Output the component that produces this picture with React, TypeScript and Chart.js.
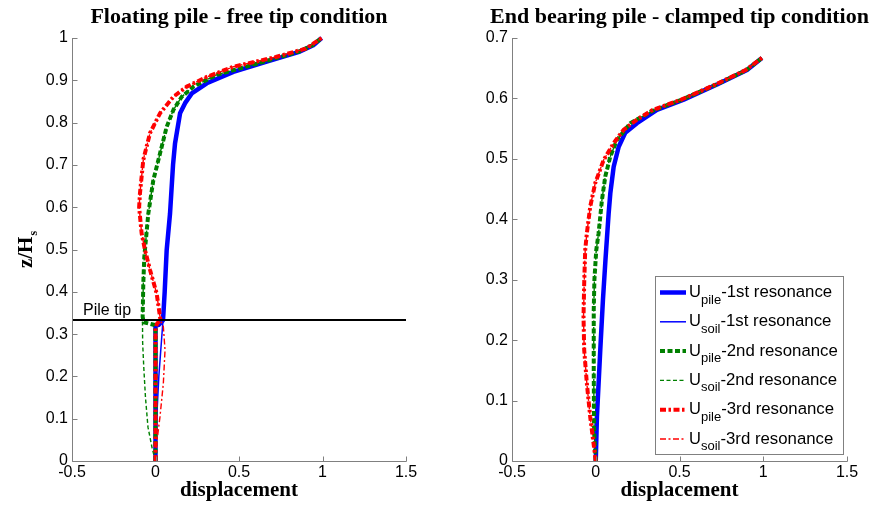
import React, { useEffect, useRef } from "react";
import { Chart, registerables } from "chart.js";

Chart.register(...registerables);

// ---------------- Data: Floating pile - free tip condition (left) ----------------
const PILE_TIP = 1 / 3;
const TIP_LINE_X = [-0.5, 1.5];
const TIP_LINE_Y = [PILE_TIP, PILE_TIP];

const L_PILE1_X = [0, 0, 0.02, 0.045, 0.055, 0.067, 0.087, 0.105, 0.117, 0.147, 0.177, 0.217, 0.307, 0.466, 0.666, 0.865, 0.945, 0.995];
const L_PILE1_Y = [0, 0.32, 0.322, 0.333, 0.4, 0.499, 0.585, 0.7, 0.751, 0.822, 0.846, 0.869, 0.893, 0.92, 0.944, 0.968, 0.983, 1.0];
const L_SOIL1_X = [0, 0.007, 0.02, 0.035, 0.045];
const L_SOIL1_Y = [0, 0.1, 0.2, 0.28, 0.333];

const L_PILE2_X = [0, 0, -0.01, -0.04, -0.07, -0.077, -0.073, -0.067, -0.043, -0.013, 0.027, 0.067, 0.107, 0.157, 0.227, 0.366, 0.65, 0.86, 0.94, 0.995];
const L_PILE2_Y = [0, 0.315, 0.322, 0.325, 0.328, 0.341, 0.42, 0.483, 0.585, 0.664, 0.727, 0.79, 0.83, 0.861, 0.885, 0.913, 0.944, 0.968, 0.983, 1.0];
const L_SOIL2_X = [0, -0.02, -0.045, -0.06, -0.07, -0.077, -0.078];
const L_SOIL2_Y = [0, 0.03, 0.08, 0.15, 0.22, 0.28, 0.333];

const L_PILE3_X = [0, 0, 0.01, 0.03, 0.027, 0.007, -0.033, -0.063, -0.083, -0.098, -0.093, -0.073, -0.033, 0.027, 0.107, 0.187, 0.307, 0.466, 0.72, 0.9, 0.995];
const L_PILE3_Y = [0, 0.315, 0.325, 0.333, 0.341, 0.396, 0.452, 0.499, 0.538, 0.6, 0.633, 0.712, 0.775, 0.822, 0.861, 0.885, 0.908, 0.932, 0.955, 0.975, 1.0];
const L_SOIL3_X = [0, 0.007, 0.027, 0.047, 0.057, 0.047, 0.03];
const L_SOIL3_Y = [0, 0.042, 0.105, 0.184, 0.262, 0.318, 0.333];

// ---------------- Data: End bearing pile - clamped tip condition (right) ----------------
const R_PILE1_X = [0, 0.007, 0.027, 0.043, 0.058, 0.077, 0.087, 0.107, 0.137, 0.176, 0.246, 0.365, 0.525, 0.724, 0.903, 0.992];
const R_PILE1_Y = [0, 0.073, 0.184, 0.267, 0.333, 0.41, 0.443, 0.487, 0.52, 0.543, 0.559, 0.581, 0.598, 0.623, 0.647, 0.667];

const R_PILE2_X = [0, -0.01, -0.012, -0.012, -0.008, 0.003, 0.017, 0.037, 0.057, 0.087, 0.126, 0.206, 0.35, 0.515, 0.72, 0.9, 0.992];
const R_PILE2_Y = [0, 0.05, 0.15, 0.25, 0.3, 0.349, 0.377, 0.432, 0.471, 0.504, 0.531, 0.559, 0.581, 0.598, 0.623, 0.647, 0.667];

const R_PILE3_X = [0, -0.033, -0.053, -0.069, -0.073, -0.069, -0.063, -0.053, -0.033, -0.003, 0.047, 0.107, 0.166, 0.246, 0.34, 0.51, 0.715, 0.895, 0.992];
const R_PILE3_Y = [0, 0.073, 0.128, 0.184, 0.239, 0.294, 0.349, 0.377, 0.421, 0.46, 0.498, 0.526, 0.548, 0.565, 0.581, 0.598, 0.623, 0.647, 0.667];

// ---------------- Axis ticks ----------------
const X_MIN = -0.5;
const X_MAX = 1.5;
const X_STEP = 0.5;
const Y_STEP = 0.1;
const L_Y_MAX = 1;
const R_Y_MAX = 0.7;

// ---------------- Styles ----------------
const AXIS_COLOR = "#808080";
const SANS = '"Liberation Sans", Arial, sans-serif';
const SERIF = '"Liberation Serif", "Times New Roman", serif';

type Style = { sub: string; rest: string; color: string; width: number; dash: number[] };
const STYLES: Style[] = [
  { sub: "pile", rest: "-1st resonance", color: "#0000ff", width: 4.5, dash: [] },
  { sub: "soil", rest: "-1st resonance", color: "#0000ff", width: 1.5, dash: [] },
  { sub: "pile", rest: "-2nd resonance", color: "#008000", width: 4, dash: [5, 2.5] },
  { sub: "soil", rest: "-2nd resonance", color: "#008000", width: 1.4, dash: [4, 2.5] },
  { sub: "pile", rest: "-3rd resonance", color: "#ff0000", width: 4, dash: [6, 2.5, 2.5, 2.5] },
  { sub: "soil", rest: "-3rd resonance", color: "#ff0000", width: 1.4, dash: [6, 2.5, 2, 2.5] },
];

function pts(xs: number[], ys: number[]) {
  return xs.map((x, i) => ({ x, y: ys[i] }));
}

function withAbove(soil: { x: number; y: number }[], pile: { x: number; y: number }[]) {
  return soil.concat(pile.filter((p) => p.y > PILE_TIP + 0.001));
}

function ds(data: { x: number; y: number }[], s: Style, order: number) {
  return {
    data,
    showLine: true,
    borderColor: s.color,
    backgroundColor: s.color,
    borderWidth: s.width,
    borderDash: s.dash,
    borderCapStyle: "butt",
    borderJoinStyle: "round",
    pointRadius: 0,
    pointHoverRadius: 0,
    tension: 0,
    clip: false,
    order,
  };
}

type Panel = {
  title: string;
  yMax: number;
  plotLeft: number;
  padRight: number;
  yLabel: boolean;
  tipText: boolean;
  legend: boolean;
  datasets: any[];
};

const fmtTick = (v: any) => String(Number(Number(v).toFixed(2)));

function decorPlugin(p: Panel) {
  return {
    id: "decor",
    afterDraw(chart: any) {
      const ctx = chart.ctx as CanvasRenderingContext2D;
      const { left, right, top, bottom } = chart.chartArea;
      const xs = chart.scales.x;
      const ys = chart.scales.y;
      ctx.save();
      // axes with inward ticks
      ctx.strokeStyle = AXIS_COLOR;
      ctx.lineWidth = 1;
      ctx.setLineDash([]);
      const L = Math.round(left) + 0.5;
      const B = Math.round(bottom) + 0.5;
      ctx.beginPath();
      ctx.moveTo(L, top);
      ctx.lineTo(L, B);
      ctx.lineTo(right + 0.5, B);
      for (const t of xs.ticks) {
        const px = Math.round(xs.getPixelForValue(t.value)) + 0.5;
        ctx.moveTo(px, B);
        ctx.lineTo(px, B - 5);
      }
      for (const t of ys.ticks) {
        const py = Math.round(ys.getPixelForValue(t.value)) + 0.5;
        ctx.moveTo(L, py);
        ctx.lineTo(L + 5, py);
      }
      ctx.stroke();

      const cx = (left + right) / 2;
      ctx.fillStyle = "#000";
      ctx.textAlign = "center";
      ctx.textBaseline = "middle";
      ctx.font = `bold 22px ${SERIF}`;
      ctx.fillText(p.title, cx, 17);
      ctx.font = `bold 21px ${SERIF}`;
      ctx.fillText("displacement", cx, 491);

      if (p.yLabel) {
        ctx.save();
        ctx.translate(25, (top + bottom) / 2);
        ctx.rotate(-Math.PI / 2);
        ctx.textAlign = "left";
        ctx.textBaseline = "alphabetic";
        ctx.font = `bold 21px ${SERIF}`;
        const w1 = ctx.measureText("z/H").width;
        ctx.font = `bold 12px ${SERIF}`;
        const w2 = ctx.measureText("s").width;
        const x0 = -(w1 + w2 + 1) / 2;
        ctx.font = `bold 21px ${SERIF}`;
        ctx.fillText("z/H", x0, 7);
        ctx.font = `bold 12px ${SERIF}`;
        ctx.fillText("s", x0 + w1 + 1, 12);
        ctx.restore();
      }

      if (p.tipText) {
        ctx.textAlign = "left";
        ctx.textBaseline = "alphabetic";
        ctx.font = `16px ${SANS}`;
        ctx.fillText("Pile tip", 83, 315);
      }

      if (p.legend) {
        const bx = 225;
        const by = 276;
        const bw = 188;
        const bh = 178;
        ctx.fillStyle = "#fff";
        ctx.fillRect(bx, by, bw, bh);
        ctx.strokeStyle = AXIS_COLOR;
        ctx.lineWidth = 1;
        ctx.strokeRect(bx + 0.5, by + 0.5, bw, bh);
        STYLES.forEach((s, i) => {
          const cy = 291 + i * 29.3;
          ctx.save();
          ctx.strokeStyle = s.color;
          ctx.lineWidth = s.width;
          ctx.setLineDash(s.dash);
          ctx.lineCap = "butt";
          ctx.beginPath();
          ctx.moveTo(bx + 5, cy + 1.5);
          ctx.lineTo(bx + 31, cy + 1.5);
          ctx.stroke();
          ctx.restore();
          ctx.fillStyle = "#000";
          ctx.textAlign = "left";
          ctx.textBaseline = "alphabetic";
          let x = bx + 34;
          ctx.font = `16.5px ${SANS}`;
          ctx.fillText("U", x, cy + 6);
          x += ctx.measureText("U").width;
          ctx.font = `13px ${SANS}`;
          ctx.fillText(s.sub, x, cy + 12.5);
          x += ctx.measureText(s.sub).width;
          ctx.font = `16.8px ${SANS}`;
          ctx.fillText(s.rest, x, cy + 6);
        });
      }
      ctx.restore();
    },
  };
}

function makeConfig(p: Panel): any {
  return {
    type: "scatter",
    data: { datasets: p.datasets },
    options: {
      animation: false,
      responsive: false,
      devicePixelRatio: window.devicePixelRatio || 1,
      layout: { padding: { top: 38, right: p.padRight, left: 0, bottom: 0 } },
      plugins: { legend: { display: false }, tooltip: { enabled: false }, title: { display: false } },
      events: [],
      scales: {
        x: {
          type: "linear",
          min: X_MIN,
          max: X_MAX,
          ticks: { stepSize: X_STEP, color: "#000", font: { family: SANS, size: 16 }, padding: 2, maxRotation: 0, autoSkip: false, callback: fmtTick },
          grid: { display: false, drawTicks: false },
          border: { display: false },
          afterFit: (s: any) => {
            s.height = 45;
          },
        },
        y: {
          type: "linear",
          min: 0,
          max: p.yMax,
          ticks: { stepSize: Y_STEP, color: "#000", font: { family: SANS, size: 16 }, padding: 4, autoSkip: false, callback: fmtTick },
          grid: { display: false, drawTicks: false },
          border: { display: false },
          afterFit: (s: any) => {
            s.width = p.plotLeft;
          },
        },
      },
    },
    plugins: [decorPlugin(p)],
  };
}

const tipStyle: Style = { sub: "", rest: "", color: "#000000", width: 2, dash: [] };

function buildLeft(): Panel {
  const p1 = pts(L_PILE1_X, L_PILE1_Y);
  const p2 = pts(L_PILE2_X, L_PILE2_Y);
  const p3 = pts(L_PILE3_X, L_PILE3_Y);
  return {
    title: "Floating pile - free tip condition",
    yMax: L_Y_MAX,
    plotLeft: 72,
    padRight: 24,
    yLabel: true,
    tipText: true,
    legend: false,
    datasets: [
      ds(p1, STYLES[0], 6),
      ds(withAbove(pts(L_SOIL1_X, L_SOIL1_Y), p1), STYLES[1], 5),
      ds(p2, STYLES[2], 4),
      ds(withAbove(pts(L_SOIL2_X, L_SOIL2_Y), p2), STYLES[3], 3),
      ds(p3, STYLES[4], 2),
      ds(withAbove(pts(L_SOIL3_X, L_SOIL3_Y), p3), STYLES[5], 1),
      ds(pts(TIP_LINE_X, TIP_LINE_Y), tipStyle, 0),
    ],
  };
}

function buildRight(): Panel {
  const p1 = pts(R_PILE1_X, R_PILE1_Y);
  const p2 = pts(R_PILE2_X, R_PILE2_Y);
  const p3 = pts(R_PILE3_X, R_PILE3_Y);
  return {
    title: "End bearing pile - clamped tip condition",
    yMax: R_Y_MAX,
    plotLeft: 82,
    padRight: 23,
    yLabel: false,
    tipText: false,
    legend: true,
    datasets: [
      ds(p1, STYLES[0], 6),
      ds(p1, STYLES[1], 5),
      ds(p2, STYLES[2], 4),
      ds(p2, STYLES[3], 3),
      ds(p3, STYLES[4], 2),
      ds(p3, STYLES[5], 1),
    ],
  };
}

function ChartPanel({ width, build }: { width: number; build: () => Panel }) {
  const ref = useRef<HTMLCanvasElement | null>(null);
  useEffect(() => {
    if (!ref.current) return;
    const chart = new Chart(ref.current, makeConfig(build()));
    return () => chart.destroy();
  }, []);
  return <canvas ref={ref} width={width} height={506} style={{ width, height: 506, display: "block" }} />;
}

export default function App() {
  return (
    <div style={{ position: "fixed", left: 0, top: 0, width: 870, height: 506, background: "#fff", display: "flex" }}>
      <ChartPanel width={430} build={buildLeft} />
      <ChartPanel width={440} build={buildRight} />
    </div>
  );
}
